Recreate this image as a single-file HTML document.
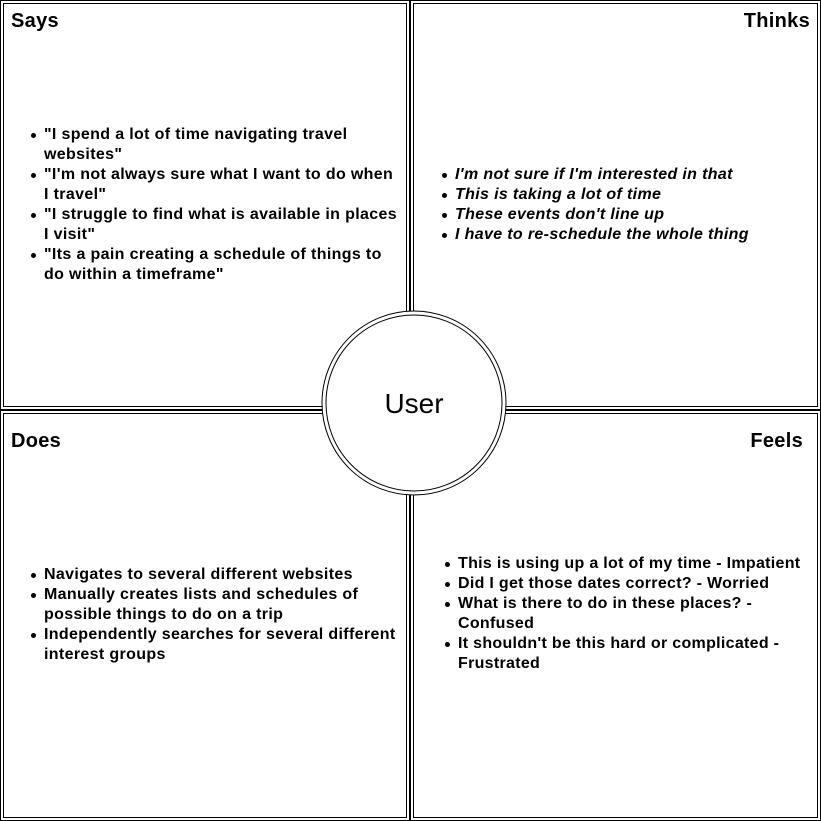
<!DOCTYPE html>
<html><head><meta charset="utf-8"><style>
body{margin:0;width:821px;height:821px;background:#fff;position:relative;overflow:hidden;font-family:"Liberation Sans",Arial,sans-serif;}
svg{position:absolute;left:0;top:0}
.t{position:absolute;font-weight:bold;font-size:20px;line-height:24px;color:#000;letter-spacing:0.3px}
ul{position:absolute;margin:0;padding:0;list-style:none;font-weight:bold;font-size:16px;line-height:20px;color:#000;letter-spacing:0.45px}
li{position:relative;padding-left:13px}
li:before{content:"";position:absolute;left:0;top:8px;width:5px;height:5px;border-radius:50%;background:#000}
.i li{font-style:italic}
</style></head><body>
<svg width="821" height="821">
<g fill="none" stroke="#000" stroke-width="1">
<rect x="0.5" y="0.5" width="409" height="409"/><rect x="3.5" y="3.5" width="403" height="403"/>
<rect x="410.5" y="0.5" width="410" height="409"/><rect x="413.5" y="3.5" width="404" height="403"/>
<rect x="0.5" y="410.5" width="409" height="410"/><rect x="3.5" y="413.5" width="403" height="404"/>
<rect x="410.5" y="410.5" width="410" height="410"/><rect x="413.5" y="413.5" width="404" height="404"/>
</g>
<circle cx="414" cy="403" r="92" fill="#fff" stroke="#000"/>
<circle cx="414" cy="403" r="88" fill="none" stroke="#000"/>
<text x="414" y="413" font-size="28" text-anchor="middle" font-family="Liberation Sans, Arial, sans-serif">User</text>
</svg>
<div class="t" style="left:11px;top:9px">Says</div>
<div class="t" style="right:11px;top:9px">Thinks</div>
<div class="t" style="left:11px;top:429px">Does</div>
<div class="t" style="right:18px;top:429px">Feels</div>
<ul style="left:31px;top:125px;width:368px;letter-spacing:0.35px">
<li>"I spend a lot of time navigating travel websites"</li>
<li>"I'm not always sure what I want to do when I travel"</li>
<li>"I struggle to find what is available in places I visit"</li>
<li>"Its a pain creating a schedule of things to do within a timeframe"</li>
</ul>
<ul class="i" style="left:442px;top:165px;width:375px;letter-spacing:0.35px">
<li>I'm not sure if I'm interested in that</li>
<li>This is taking a lot of time</li>
<li>These events don't line up</li>
<li>I have to re-schedule the whole thing</li>
</ul>
<ul style="left:31px;top:565px;width:373px;letter-spacing:0.35px">
<li>Navigates to several different websites</li>
<li>Manually creates lists and schedules of possible things to do on a trip</li>
<li>Independently searches for several different interest groups</li>
</ul>
<ul style="left:445px;top:554px;width:368px;letter-spacing:0.3px">
<li>This is using up a lot of my time - Impatient</li>
<li>Did I get those dates correct? - Worried</li>
<li>What is there to do in these places? - Confused</li>
<li>It shouldn't be this hard or complicated - Frustrated</li>
</ul>
</body></html>
